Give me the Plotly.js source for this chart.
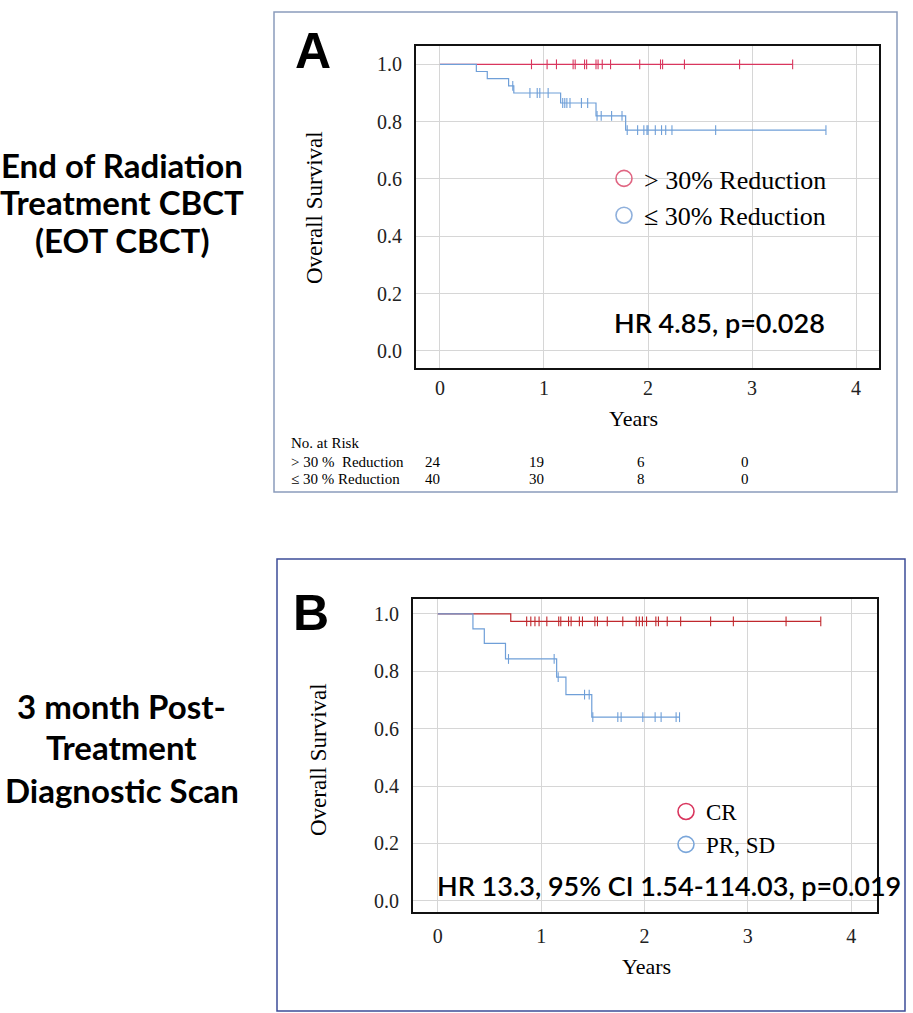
<!DOCTYPE html>
<html>
<head>
<meta charset="utf-8">
<script src="https://cdn.plot.ly/plotly-3.0.1.min.js"></script>
<style>
  html, body { margin: 0; padding: 0; background: #fff; }
  #chart { width: 913px; height: 1013px; }
</style>
</head>
<body>
<div id="chart"></div>
<script>
// ===== Panel A: End of treatment CBCT =====
const aHighName = '&gt; 30% Reduction';
const aHighTimes = [0, 3.39];
const aHighSurv = [1, 1];
const aHighCens = [0.88, 1.03, 1.12, 1.28, 1.30, 1.39, 1.41, 1.50, 1.52, 1.56, 1.64, 1.92, 2.12, 2.14, 2.35, 2.88, 3.39];

const aLowName = '≤ 30% Reduction';
const aLowTimes = [0, 0.35, 0.455, 0.66, 0.71, 1.16, 1.50, 1.785, 3.71];
const aLowSurv = [1, 0.975, 0.95, 0.925, 0.9, 0.865, 0.82, 0.77, 0.77];
const aLowCens = [0.70, 0.865, 0.935, 0.96, 1.04, 1.18, 1.20, 1.22, 1.25, 1.36, 1.42, 1.51, 1.55, 1.65, 1.75,
                  1.80, 1.90, 1.96, 1.99, 2.00, 2.07, 2.13, 2.17, 2.23, 2.65, 3.71];

// number at risk table
const riskTimes = [0, 1, 2, 3];
const riskHighA = [24, 19, 6, 0];
const riskLowA = [40, 30, 8, 0];

// ===== Panel B: 3 month post-treatment scan =====
const bCrName = 'CR';
const bCrTimes = [0, 0.706, 3.706];
const bCrSurv = [1, 0.974, 0.974];
const bCrCens = [0.86, 0.90, 0.94, 0.98, 1.055, 1.17, 1.19, 1.265, 1.29, 1.37, 1.40, 1.52, 1.545, 1.64, 1.79,
                 1.92, 1.95, 1.98, 2.02, 2.11, 2.135, 2.22, 2.35, 2.64, 2.86, 3.37, 3.706];

const bPrName = 'PR, SD';
const bPrTimes = [0, 0.34, 0.45, 0.655, 1.15, 1.24, 1.49, 2.34];
const bPrSurv = [1, 0.948, 0.897, 0.843, 0.78, 0.719, 0.64, 0.64];
const bPrCens = [0.684, 1.126, 1.165, 1.42, 1.465, 1.50, 1.742, 1.774, 1.984, 2.103, 2.161, 2.306, 2.339];

const yTicks = [0, 0.2, 0.4, 0.6, 0.8, 1.0];
const xTicks = [0, 1, 2, 3, 4];

// ===== helpers =====
const W = 913, H = 1013;
const px = x => x / W;
const py = y => 1 - y / H;
const SERIF = 'Liberation Serif, Times New Roman, serif';
const SANS = 'Lato, Open Sans, sans-serif';

function survAt(times, surv, t) {
    let s = surv[0];
    for (let i = 0; i < times.length; i++) {
        if (times[i] <= t) s = surv[i];
    }
    return s;
}

function kmTraces(times, surv, cens, color, xa, ya) {
    return [
        {
            x: times, y: surv, xaxis: xa, yaxis: ya,
            type: 'scatter', mode: 'lines',
            line: { shape: 'hv', color: color, width: 1.2 },
            showlegend: false, hoverinfo: 'skip'
        },
        {
            x: cens, y: cens.map(t => survAt(times, surv, t)), xaxis: xa, yaxis: ya,
            type: 'scatter', mode: 'markers',
            marker: { symbol: 'line-ns-open', size: 7, color: color, line: { color: color, width: 1.1 } },
            showlegend: false, hoverinfo: 'skip'
        }
    ];
}

function legendTrace(name, color, legendId) {
    return {
        x: [null], y: [null], name: name, legend: legendId,
        type: 'scatter', mode: 'markers',
        marker: { symbol: 'circle-open', size: 16, color: color, line: { color: color, width: 1.6 } },
        showlegend: true
    };
}

const redA = '#d9365e', blueA = '#6f9fd8';
const redB = '#c0282d', blueB = '#6f9fd8';

const data = [
    ...kmTraces(aHighTimes, aHighSurv, aHighCens, redA, 'x', 'y'),
    ...kmTraces(aLowTimes, aLowSurv, aLowCens, blueA, 'x', 'y'),
    ...kmTraces(bCrTimes, bCrSurv, bCrCens, redB, 'x2', 'y2'),
    ...kmTraces(bPrTimes, bPrSurv, bPrCens, blueB, 'x2', 'y2'),
    legendTrace(aHighName, '#e06582', 'legend'),
    legendTrace(aLowName, '#8fb0dc', 'legend'),
    legendTrace(bCrName, '#d9365e', 'legend2'),
    legendTrace(bPrName, '#7aa6da', 'legend2')
];

function xAxis(domain, range, anchor, tl) {
    return {
        domain: domain, range: range, anchor: anchor,
        tickvals: xTicks, ticks: 'outside', ticklen: tl, tickcolor: 'rgba(0,0,0,0)',
        tickfont: { family: SERIF, size: 20, color: '#222' },
        showgrid: true, gridcolor: '#d6d6d6', gridwidth: 1, zeroline: false,
        showline: true, linecolor: '#111', linewidth: 2, mirror: true
    };
}
function yAxis(domain, range, anchor) {
    return {
        domain: domain, range: range, anchor: anchor,
        tickvals: yTicks, tickformat: '.1f', ticks: 'outside', ticklen: 8, tickcolor: 'rgba(0,0,0,0)',
        tickfont: { family: SERIF, size: 20, color: '#222' },
        showgrid: true, gridcolor: '#d6d6d6', gridwidth: 1, zeroline: false,
        showline: true, linecolor: '#111', linewidth: 2, mirror: true
    };
}

const annotations = [];
function note(text, x, y, size, family, extra) {
    annotations.push(Object.assign({
        text: text, x: px(x), y: py(y), xref: 'paper', yref: 'paper',
        showarrow: false, xanchor: 'center', yanchor: 'middle',
        font: { family: family, size: size, color: '#000' }
    }, extra || {}));
}

// row titles on the left, one line at a time
const rowTitleA = ['End of Radiation', 'Treatment CBCT', '(EOT CBCT)'];
const rowTitleB = ['3 month Post-', 'Treatment', 'Diagnostic Scan'];
[165, 202, 240].forEach((y, i) => note('<b>' + rowTitleA[i] + '</b>', 122, y, 33, SANS));
[706, 747, 790].forEach((y, i) => note('<b>' + rowTitleB[i] + '</b>', 122, y, 33, SANS));

// panel letters
note('<b>A</b>', 313, 51, 50, 'Liberation Sans, Arial, sans-serif');
note('<b>B</b>', 311, 613, 50, 'Liberation Sans, Arial, sans-serif');

// axis titles
note('Overall Survival', 314, 208, 23, SERIF, { textangle: -90 });
note('Overall Survival', 318, 760, 23, SERIF, { textangle: -90 });
note('Years', 633, 418, 22, SERIF);
note('Years', 646, 966, 22, SERIF);

// hazard ratios
note('HR 4.85, p=0.028', 719, 322, 27, SANS, { font: { family: SANS, size: 27, color: '#000', weight: 600 } });
note('HR 13.3, 95% CI 1.54-114.03, p=0.019', 669, 885, 27, SANS, { font: { family: SANS, size: 27, color: '#000', weight: 600 } });

// number at risk
note('No. at Risk', 289, 443, 15, SERIF, { xanchor: 'left' });
note('&gt; 30 %&nbsp;&nbsp;Reduction', 289, 462, 15, SERIF, { xanchor: 'left' });
note('≤ 30 % Reduction', 289, 479, 15, SERIF, { xanchor: 'left' });
riskTimes.forEach((t, i) => {
    annotations.push({
        text: String(riskHighA[i]), x: t, y: py(462), xref: 'x', yref: 'paper', xshift: -7,
        showarrow: false, yanchor: 'middle', font: { family: SERIF, size: 15, color: '#000' }
    });
    annotations.push({
        text: String(riskLowA[i]), x: t, y: py(479), xref: 'x', yref: 'paper', xshift: -7,
        showarrow: false, yanchor: 'middle', font: { family: SERIF, size: 15, color: '#000' }
    });
});

const layout = {
    width: W, height: H,
    margin: { l: 0, r: 0, t: 0, b: 0 },
    paper_bgcolor: '#fff', plot_bgcolor: '#fff',
    xaxis: xAxis([px(416), px(879)], [-0.23, 4.22], 'y', 1),
    yaxis: yAxis([py(368), py(46)], [-0.06, 1.064], 'x'),
    xaxis2: xAxis([px(413), px(877)], [-0.24, 4.25], 'y2', 5),
    yaxis2: yAxis([py(912), py(599)], [-0.039, 1.052], 'x2'),
    legend: {
        x: px(604), y: py(155), xanchor: 'left', yanchor: 'top',
        bgcolor: 'rgba(0,0,0,0)', font: { family: SERIF, size: 26, color: '#000' }
    },
    legend2: {
        x: px(666), y: py(790), xanchor: 'left', yanchor: 'top',
        bgcolor: 'rgba(0,0,0,0)', font: { family: SERIF, size: 23, color: '#000' }
    },
    annotations: annotations,
    shapes: [
        {
            type: 'rect', xref: 'paper', yref: 'paper',
            x0: px(274), x1: px(897), y0: py(492), y1: py(12),
            line: { color: '#8a9cbc', width: 1.5 }
        },
        {
            type: 'rect', xref: 'paper', yref: 'paper',
            x0: px(277), x1: px(905), y0: py(1011), y1: py(559),
            line: { color: '#3d4c98', width: 1.5 }
        }
    ]
};

Plotly.newPlot('chart', data, layout, { displayModeBar: false, staticPlot: true });
</script>
</body>
</html>
